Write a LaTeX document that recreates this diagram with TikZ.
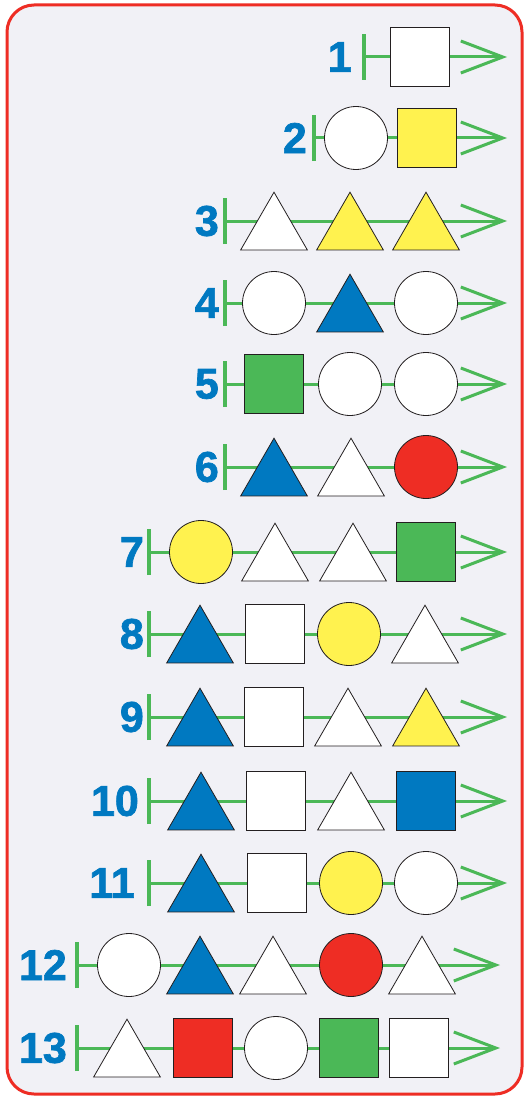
\documentclass[tikz,border=0pt]{standalone}
\usepackage{fontspec}
\setmainfont{Liberation Sans}
\newfontfamily\numfont[FakeBold=1.6]{Liberation Sans Bold}
\usepackage{xcolor}
\usetikzlibrary{arrows.meta,shapes.geometric}
\definecolor{ink}{HTML}{231F20}
\definecolor{cBlue}{HTML}{0079C1}
\definecolor{cYellow}{HTML}{FFF24F}
\definecolor{cGreen}{HTML}{4BB857}
\definecolor{cRed}{HTML}{EE2D24}
\definecolor{cPaper}{HTML}{F1F1F6}
\tikzset{
  sq/.style={rectangle, draw=ink, line width=0.8pt, fill=white, minimum size=59pt, inner sep=0pt},
  cir/.style={circle, draw=ink, line width=0.8pt, fill=white, minimum size=63pt, inner sep=0pt},
  tri/.style={regular polygon, regular polygon sides=3, draw=ink, line width=0.8pt, fill=white, minimum size=77pt, inner sep=0pt, yshift=-9.7pt},
  track/.style={draw=cGreen, line width=3pt, {Bar[width=46pt,line width=4pt]}-{Straight Barb[length=42pt,width=32pt]}},
  num/.style={font=\fontsize{43}{43}\selectfont\numfont, text=cBlue, inner sep=0pt, anchor=east},
}
\begin{document}
\begin{tikzpicture}[x=1pt, y=-1pt]
\useasboundingbox (0,0) rectangle (530,1097);
\fill[white] (0,0) rectangle (530,1097);
\draw[cRed, line width=3pt, fill=cPaper, rounded corners=27pt] (7,5) rectangle (522,1094);
% row 1
\coordinate (s1) at (362,57); \coordinate (e1) at (507,57);
\draw[track] (s1) -- (e1);
\node[num] (n1) at (352,57) {1};
\node[sq] (a1) at (420,57) {};
% row 2
\coordinate (s2) at (312,138); \coordinate (e2) at (507,138);
\draw[track] (s2) -- (e2);
\node[num] (n2) at (307,138) {2};
\node[cir] (a2) at (356,138) {};
\node[sq, fill=cYellow] (b2) at (427,138) {};
% row 3
\coordinate (s3) at (223,221); \coordinate (e3) at (507,221);
\draw[track] (s3) -- (e3);
\node[num] (n3) at (219,221) {3};
\node[tri] (a3) at (274,221) {};
\node[tri, fill=cYellow] (b3) at (350,221) {};
\node[tri, fill=cYellow] (c3) at (426,221) {};
% row 4
\coordinate (s4) at (223,303); \coordinate (e4) at (507,303);
\draw[track] (s4) -- (e4);
\node[num] (n4) at (219,303) {4};
\node[cir] (a4) at (274,303) {};
\node[tri, fill=cBlue] (b4) at (350,303) {};
\node[cir] (c4) at (426,303) {};
% row 5
\coordinate (s5) at (223,384); \coordinate (e5) at (507,384);
\draw[track] (s5) -- (e5);
\node[num] (n5) at (219,384) {5};
\node[sq, fill=cGreen] (a5) at (274,384) {};
\node[cir] (b5) at (350,384) {};
\node[cir] (c5) at (426,384) {};
% row 6
\coordinate (s6) at (223,467); \coordinate (e6) at (507,467);
\draw[track] (s6) -- (e6);
\node[num] (n6) at (219,467) {6};
\node[tri, fill=cBlue] (a6) at (274,467) {};
\node[tri] (b6) at (351,467) {};
\node[cir, fill=cRed] (c6) at (426,467) {};
% row 7
\coordinate (s7) at (147,552); \coordinate (e7) at (507,552);
\draw[track] (s7) -- (e7);
\node[num] (n7) at (144,552) {7};
\node[cir, fill=cYellow] (a7) at (201,552) {};
\node[tri] (b7) at (275,552) {};
\node[tri] (c7) at (353,552) {};
\node[sq, fill=cGreen] (d7) at (426,552) {};
% row 8
\coordinate (s8) at (147,634); \coordinate (e8) at (507,634);
\draw[track] (s8) -- (e8);
\node[num] (n8) at (144,634) {8};
\node[tri, fill=cBlue] (a8) at (200,634) {};
\node[sq] (b8) at (275,634) {};
\node[cir, fill=cYellow] (c8) at (349,634) {};
\node[tri] (d8) at (425,634) {};
% row 9
\coordinate (s9) at (147,717); \coordinate (e9) at (507,717);
\draw[track] (s9) -- (e9);
\node[num] (n9) at (144,717) {9};
\node[tri, fill=cBlue] (a9) at (200,717) {};
\node[sq] (b9) at (274,717) {};
\node[tri] (c9) at (348,717) {};
\node[tri, fill=cYellow] (d9) at (426,717) {};
% row 10
\coordinate (s10) at (147,801); \coordinate (e10) at (507,801);
\draw[track] (s10) -- (e10);
\node[num] (n10) at (139,801) {10};
\node[tri, fill=cBlue] (a10) at (201,801) {};
\node[sq] (b10) at (276,801) {};
\node[tri] (c10) at (351,801) {};
\node[sq, fill=cBlue] (d10) at (426,801) {};
% row 11
\coordinate (s11) at (147,883); \coordinate (e11) at (507,883);
\draw[track] (s11) -- (e11);
\node[num] (n11) at (135,883) {11};
\node[tri, fill=cBlue] (a11) at (201,883) {};
\node[sq] (b11) at (277,883) {};
\node[cir, fill=cYellow] (c11) at (351,883) {};
\node[cir] (d11) at (426,883) {};
% row 12
\coordinate (s12) at (75,965); \coordinate (e12) at (500,965);
\draw[track] (s12) -- (e12);
\node[num] (n12) at (67,965) {12};
\node[cir] (a12) at (129,965) {};
\node[tri, fill=cBlue] (b12) at (200,965) {};
\node[tri] (c12) at (273,965) {};
\node[cir, fill=cRed] (d12) at (351,965) {};
\node[tri] (f12) at (422,965) {};
% row 13
\coordinate (s13) at (75,1048); \coordinate (e13) at (500,1048);
\draw[track] (s13) -- (e13);
\node[num] (n13) at (67,1048) {13};
\node[tri] (a13) at (127,1048) {};
\node[sq, fill=cRed] (b13) at (203,1048) {};
\node[cir] (c13) at (276,1048) {};
\node[sq, fill=cGreen] (d13) at (349,1048) {};
\node[sq] (f13) at (419,1048) {};
\end{tikzpicture}
\end{document}
